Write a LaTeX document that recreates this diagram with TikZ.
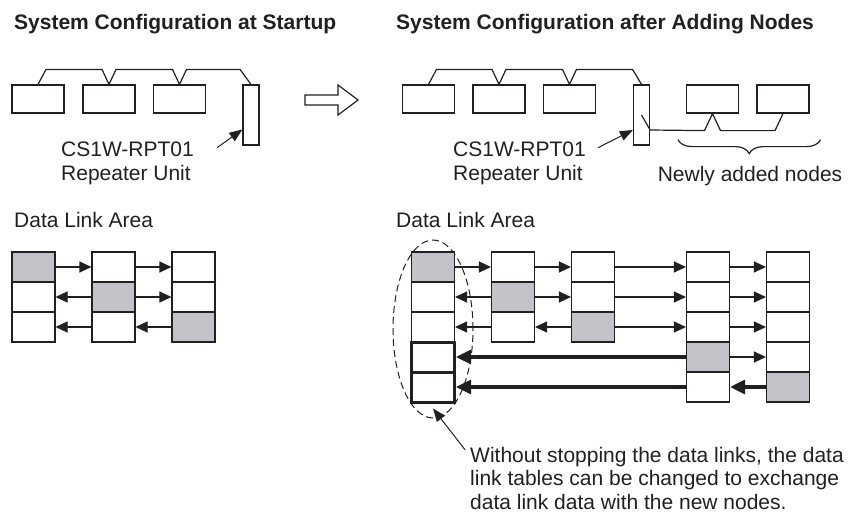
\documentclass[tikz,border=0pt]{standalone}
\usepackage{fontspec}
\setmainfont{Liberation Sans}
\usetikzlibrary{arrows.meta,shapes.geometric,decorations.pathreplacing}
\definecolor{ink}{RGB}{35,31,32}
\definecolor{cellgray}{RGB}{193,195,201}
\tikzset{
  txt/.style={font=\fontsize{21}{23.5}\selectfont, inner sep=0pt},
  head/.style={font=\bfseries\fontsize{21}{23.5}\selectfont, inner sep=0pt},
  bus/.style={line width=1.2pt},
  net/.style={draw, line width=1.2pt, minimum width=52pt, minimum height=28pt, inner sep=0pt},
  rpt/.style={draw, line width=1.2pt, minimum width=16pt, minimum height=60pt, inner sep=0pt},
  cell/.style={draw, line width=1.1pt, minimum width=43pt, minimum height=30pt, inner sep=0pt},
  newcell/.style={cell, line width=3pt},
  dl/.style={line width=1.1pt, -{Triangle[length=12pt,width=11pt]}},
  dlbold/.style={line width=3.2pt, -{Triangle[length=15pt,width=14pt]}},
  callout/.style={line width=1pt, -{Triangle[length=13pt,width=10pt]}}
}
\begin{document}
\begin{tikzpicture}[x=1pt,y=-1pt,color=ink]
  \useasboundingbox (0,0) rectangle (857,514);
  \node[head,anchor=base west] (titleA) at (14,29) {System Configuration at Startup};
  \node[head,anchor=base west] (titleB) at (396,29) {System Configuration after Adding Nodes};

  \node[net] (a1) at (38,99) {}; \node[net] (a2) at (109,99) {}; \node[net] (a3) at (179.5,99) {}; \node[rpt] (ra) at (251,115) {};
  \draw[bus] (a1.north) -- ++(8,-15) -- ([shift={(-7,-15)}]a2.north) -- (a2.north) -- ++(7,-15) -- ([shift={(-7,-15)}]a3.north) -- (a3.north) -- ++(7,-15) -- ([shift={(-11,-15)}]ra.north) -- (ra.north);
  \node[txt,anchor=north west,align=left] (lblA) at (61,141.7) {CS1W-RPT01\\Repeater Unit};
  \draw[callout] ([shift={(23,6)}]lblA.north east) -- ([shift={(0,14.5)}]ra.west);

  \draw[bus] (305,95) -- (338,95) -- (338,85) -- (358,100) -- (338,115) -- (338,105) -- (305,105) -- cycle;

  \node[net] (b1) at (428.5,99) {}; \node[net] (b2) at (499,99) {}; \node[net] (b3) at (569.5,99) {}; \node[rpt] (rb) at (641.5,115) {};
  \node[net] (n1) at (712.5,99) {}; \node[net] (n2) at (783,99) {};
  \draw[bus] (b1.north) -- ++(8,-15) -- ([shift={(-7,-15)}]b2.north) -- (b2.north) -- ++(7,-15) -- ([shift={(-7,-15)}]b3.north) -- (b3.north) -- ++(7,-15) -- ([shift={(-9,-15)}]rb.north) -- (rb.north);
  \draw[bus] (rb.center) -- ([shift={(0,15)}]rb.east) -- ([shift={(-8,17)}]n1.south) -- (n1.south) -- ++(8,17) -- ([shift={(-8,17)}]n2.south) -- (n2.south);
  \node[txt,anchor=north west,align=left] (lblB) at (453,141.7) {CS1W-RPT01\\Repeater Unit};
  \draw[callout] ([shift={(12,6)}]lblB.north east) -- ([shift={(0,15)}]rb.west);
  \draw[bus,decorate,decoration={brace,mirror,amplitude=14pt}] ([shift={(-8,26)}]n1.south west) -- ([shift={(11,26)}]n2.south east);
  \node[txt,anchor=base] (added) at (750,181) {Newly added nodes};

  \node[txt,anchor=base west] (areaA) at (14,227) {Data Link Area};
  \node[txt,anchor=base west] (areaB) at (396,227) {Data Link Area};

  \foreach \x [count=\c] in {33.5,113.5,193.5} \foreach \r in {1,2,3} {\ifnum\c=\r\def\fc{cellgray}\else\def\fc{white}\fi \node[cell,fill=\fc] (L\c\r) at (\x,237+30*\r) {};}
  \draw[dl] (L11) -- (L21); \draw[dl] (L21) -- (L31);
  \draw[dl] (L22) -- (L12); \draw[dl] (L22) -- (L32);
  \draw[dl] (L23) -- (L13); \draw[dl] (L33) -- (L23);

  \node[draw,dashed,dash pattern=on 7pt off 4pt,line width=1pt,ellipse,minimum width=80pt,minimum height=178pt,inner sep=0pt] (grp) at (433,329) {};
  \foreach \x [count=\c] in {433,513,593,708,788} \foreach \r in {1,2,3} {\ifnum\c=\r\def\fc{cellgray}\else\def\fc{white}\fi \node[cell,fill=\fc] (R\c\r) at (\x,237+30*\r) {};}
  \node[cell,fill=cellgray] (R44) at (708,357) {}; \node[cell,fill=white] (R54) at (788,357) {};
  \node[cell,fill=white] (R45) at (708,387) {}; \node[cell,fill=cellgray] (R55) at (788,387) {};
  \node[newcell] (R14) at (433,357) {}; \node[newcell] (R15) at (433,387) {};
  \foreach \c [count=\n from 2] in {1,2,3,4} \draw[dl] (R\c1) -- (R\n1);
  \draw[dl] (R22) -- (R12); \draw[dl] (R22) -- (R32); \draw[dl] (R32) -- (R42); \draw[dl] (R42) -- (R52);
  \draw[dl] (R23) -- (R13); \draw[dl] (R33) -- (R23); \draw[dl] (R33) -- (R43); \draw[dl] (R43) -- (R53);
  \draw[dlbold] (R44) -- (R14); \draw[dl] (R44) -- (R54);
  \draw[dlbold] (R45) -- (R15); \draw[dlbold] (R55) -- (R45);

  \node[txt,anchor=north west,align=left] (note) at (470,446.7) {Without stopping the data links, the data\\link tables can be changed to exchange\\data link data with the new nodes.};
  \draw[callout] ([shift={(-5,3)}]note.north west) -- ([shift={(0,5)}]R15.south);
\end{tikzpicture}
\end{document}
